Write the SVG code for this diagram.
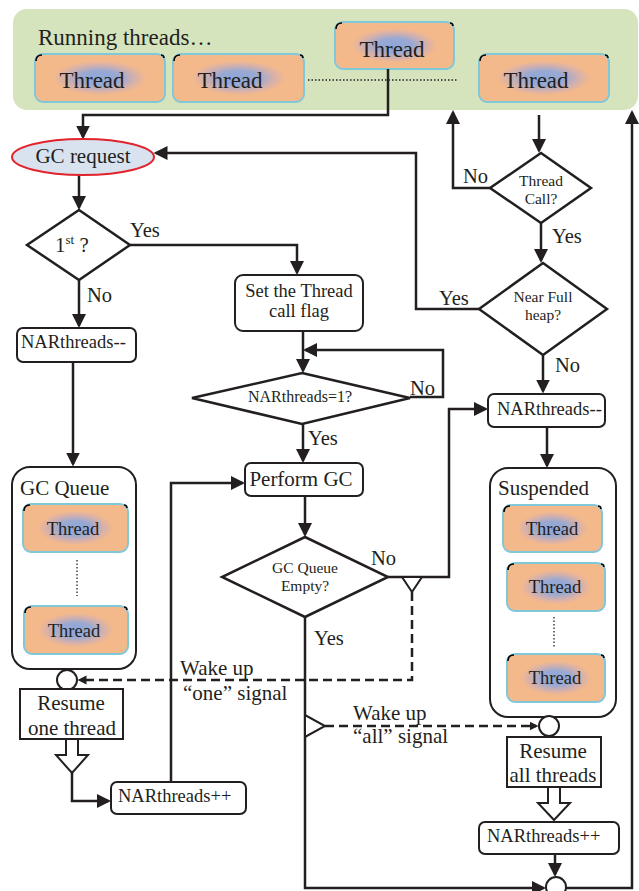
<svg xmlns="http://www.w3.org/2000/svg" width="639" height="891" viewBox="0 0 639 891">
  <style>
    .t { font-family: "Liberation Serif", "Times New Roman", serif; fill: #231f20; }
    .th { fill: url(#tg); stroke: #7ec8da; stroke-width: 2; }
    .mk { fill: none; stroke: #000; stroke-width: 1.6; }
    .box { fill: #fff; stroke: #231f20; stroke-width: 2; }
    .dia { fill: #fff; stroke: #231f20; stroke-width: 2.5; }
    .ln { fill: none; stroke: #231f20; stroke-width: 2.5; }
    .arr { marker-end: url(#ah); }
    .ds { fill: none; stroke: #231f20; stroke-width: 2.5; stroke-dasharray: 9 5; marker-end: url(#sh); }
    .dot { fill: none; stroke: #231f20; stroke-width: 1.3; stroke-dasharray: 1.5 2; }
    .hol { fill: #fff; stroke: #231f20; stroke-width: 2; }
  </style>
  <defs>
    <radialGradient id="tg" cx="0.5" cy="0.5" r="0.5">
      <stop offset="0" stop-color="#8ea7d9"/>
      <stop offset="0.3" stop-color="#99a9d3"/>
      <stop offset="0.55" stop-color="#d8b1a9"/>
      <stop offset="0.72" stop-color="#f4b98b"/>
      <stop offset="1" stop-color="#f4b98b"/>
    </radialGradient>
    <marker id="ah" markerUnits="userSpaceOnUse" markerWidth="15" markerHeight="14" refX="11.5" refY="7" orient="auto">
      <path d="M0,0 L14,7 L0,14 z" fill="#231f20"/>
    </marker>
    <marker id="sh" markerUnits="userSpaceOnUse" markerWidth="10" markerHeight="10" refX="6.5" refY="4.5" orient="auto">
      <path d="M0,0 L9,4.5 L0,9 z" fill="#231f20"/>
    </marker>
  </defs>

  <!-- running threads panel -->
  <g id="running">
    <rect x="13" y="9" width="625" height="101" rx="14" fill="#d6e4be"/>
    <text class="t" x="38" y="45" font-size="23">Running threads…</text>
    <line class="dot" x1="308" y1="80" x2="458" y2="80"/>
  </g>
  <g id="run-thread-1">
    <rect class="th" x="35" y="54" width="130" height="48" rx="8"/>
    <path class="mk" d="M36,61 Q36,55 42,55 M161,55 Q164,55 164,58"/>
    <text class="t" x="92" y="88" font-size="23" text-anchor="middle">Thread</text>
  </g>
  <g id="run-thread-2">
    <rect class="th" x="173" y="54" width="131" height="48" rx="8"/>
    <path class="mk" d="M174,61 Q174,55 180,55 M300,55 Q303,55 303,58"/>
    <text class="t" x="230" y="88" font-size="23" text-anchor="middle">Thread</text>
  </g>
  <g id="run-thread-3">
    <rect class="th" x="335" y="22" width="119" height="47" rx="8"/>
    <path class="mk" d="M336,29 Q336,23 342,23 M450,23 Q453,23 453,26"/>
    <text class="t" x="392" y="57" font-size="23" text-anchor="middle">Thread</text>
  </g>
  <g id="run-thread-4">
    <rect class="th" x="479" y="54" width="130" height="48" rx="8"/>
    <path class="mk" d="M480,61 Q480,55 486,55 M605,55 Q608,55 608,58"/>
    <text class="t" x="536" y="88" font-size="23" text-anchor="middle">Thread</text>
  </g>

  <!-- connectors -->
  <g id="connectors">
    <path class="ln arr" d="M388,69 V115 H83 V137"/>
    <path class="ln arr" d="M79,175 V207.5"/>
    <path class="ln arr" d="M130,245 H297 V272.5"/>
    <path class="ln arr" d="M79,280 V325.5"/>
    <path class="ln arr" d="M73,362 V464"/>
    <path class="ln arr" d="M303,331 V370.5"/>
    <path class="ln arr" d="M410,397 H443 V350 H305.5"/>
    <path class="ln arr" d="M303,424 V460.5"/>
    <path class="ln arr" d="M305,496 V534.5"/>
    <path class="ln arr" d="M388,577 H449 V409 H485.5"/>
    <path class="ln arr" d="M305,617 V888 H543.5"/>
    <path class="ln arr" d="M566,888 H632 V112.5"/>
    <path class="ln arr" d="M539,115 V150.5"/>
    <path class="ln arr" d="M490,188 H453 V112.5"/>
    <path class="ln arr" d="M541,223 V260.5"/>
    <path class="ln arr" d="M479,309 H416 V153 H156"/>
    <path class="ln arr" d="M543,355 V391"/>
    <path class="ln arr" d="M547,427 V465.5"/>
    <path class="ln arr" d="M72,773 V801 H108.5"/>
    <path class="ln arr" d="M171,782 V483 H242.5"/>
    <path class="ln arr" d="M555,854 V874.5"/>
    <path class="ds" d="M412,592 V680 H80"/>
    <path class="ds" d="M325,726 H536"/>
    <polygon class="hol" points="402,577 422,577 412,592"/>
    <polygon class="hol" points="305,715 305,737 325,726"/>
    <polygon class="hol" points="66,739 66,755 56,755 72,773 88,755 78,755 78,739"/>
    <polygon class="hol" points="548,787 548,803 538,803 554,820 570,803 560,803 560,787"/>
  </g>

  <!-- edge labels -->
  <g id="labels" class="t" font-size="20.5">
    <text x="130" y="237">Yes</text>
    <text x="87" y="302">No</text>
    <text x="463" y="183">No</text>
    <text x="552" y="243">Yes</text>
    <text x="439" y="305">Yes</text>
    <text x="555" y="372">No</text>
    <text x="410" y="395">No</text>
    <text x="308" y="445">Yes</text>
    <text x="371" y="565">No</text>
    <text x="314" y="645">Yes</text>
    <text x="180" y="675" font-size="21">Wake up</text>
    <text x="183" y="700" font-size="21">“one” signal</text>
    <text x="353" y="720" font-size="21">Wake up</text>
    <text x="353" y="743" font-size="21">“all” signal</text>
  </g>

  <g id="gc-request">
    <ellipse cx="83" cy="157" rx="71" ry="18" fill="#d8e3ef" stroke="#e3232c" stroke-width="2"/>
    <text class="t" x="83" y="163" font-size="21" text-anchor="middle">GC request</text>
  </g>

  <g id="first">
    <polygon class="dia" points="79,210 130,245 79,280 27,245"/>
    <text class="t" x="55" y="252" font-size="21">1<tspan font-size="13" dy="-8">st</tspan><tspan dy="8"> ?</tspan></text>
  </g>

  <g id="nar-dec-left">
    <rect class="box" x="17" y="328" width="119" height="34" rx="6"/>
    <text class="t" x="21" y="348" font-size="18.5">NARthreads--</text>
  </g>

  <g id="set-flag">
    <rect class="box" x="235" y="275" width="128" height="56" rx="8"/>
    <text class="t" x="299" y="297" font-size="18.5" text-anchor="middle">Set the Thread</text>
    <text class="t" x="299" y="317" font-size="18.5" text-anchor="middle">call flag</text>
  </g>

  <g id="nar-eq-1">
    <polygon class="dia" points="302,373 410,398 302,424 192,398"/>
    <text class="t" x="300" y="402" font-size="16" text-anchor="middle">NARthreads=1?</text>
  </g>

  <g id="perform-gc">
    <rect class="box" x="245" y="463" width="118" height="33" rx="6"/>
    <text class="t" x="301" y="486" font-size="21" text-anchor="middle">Perform GC</text>
  </g>

  <g id="gc-queue-empty">
    <polygon class="dia" points="305,537 388,577 305,617 222,577"/>
    <text class="t" x="305" y="573" font-size="15.5" text-anchor="middle">GC Queue</text>
    <text class="t" x="305" y="591" font-size="15.5" text-anchor="middle">Empty?</text>
  </g>

  <g id="thread-call">
    <polygon class="dia" points="541,153 591,188 541,223 490,188"/>
    <text class="t" x="541" y="186" font-size="15.5" text-anchor="middle">Thread</text>
    <text class="t" x="541" y="204" font-size="15.5" text-anchor="middle">Call?</text>
  </g>

  <g id="near-full">
    <polygon class="dia" points="543,263 607,309 543,355 479,309"/>
    <text class="t" x="543" y="302" font-size="15.5" text-anchor="middle">Near Full</text>
    <text class="t" x="543" y="320" font-size="15.5" text-anchor="middle">heap?</text>
  </g>

  <g id="nar-dec-right">
    <rect class="box" x="488" y="394" width="117" height="33" rx="6"/>
    <text class="t" x="497" y="415" font-size="18.5">NARthreads--</text>
  </g>

  <g id="gc-queue">
    <rect class="box" x="12" y="467" width="124" height="202" rx="18"/>
    <text class="t" x="20" y="495" font-size="21">GC Queue</text>
    <line class="dot" x1="77" y1="560" x2="77" y2="596"/>
  </g>
  <g id="queue-thread-1">
    <rect class="th" x="23" y="504" width="105" height="48" rx="8"/>
    <path class="mk" d="M24,511 Q24,505 30,505 M124,505 Q127,505 127,508"/>
    <text class="t" x="73" y="535" font-size="18.5" text-anchor="middle">Thread</text>
  </g>
  <g id="queue-thread-2">
    <rect class="th" x="24" y="606" width="104" height="48" rx="8"/>
    <path class="mk" d="M25,613 Q25,607 31,607 M124,607 Q127,607 127,610"/>
    <text class="t" x="74" y="637" font-size="18.5" text-anchor="middle">Thread</text>
  </g>

  <g id="suspended">
    <rect class="box" x="490" y="468" width="126" height="249" rx="18"/>
    <text class="t" x="498" y="495" font-size="21">Suspended</text>
    <line class="dot" x1="554" y1="617" x2="554" y2="648"/>
  </g>
  <g id="susp-thread-1">
    <rect class="th" x="503" y="505" width="99" height="47" rx="8"/>
    <path class="mk" d="M504,512 Q504,506 510,506 M598,506 Q601,506 601,509"/>
    <text class="t" x="552" y="535" font-size="18.5" text-anchor="middle">Thread</text>
  </g>
  <g id="susp-thread-2">
    <rect class="th" x="507" y="563" width="98" height="48" rx="8"/>
    <path class="mk" d="M508,570 Q508,564 514,564 M601,564 Q604,564 604,567"/>
    <text class="t" x="555" y="593" font-size="18.5" text-anchor="middle">Thread</text>
  </g>
  <g id="susp-thread-3">
    <rect class="th" x="507" y="654" width="98" height="48" rx="8"/>
    <path class="mk" d="M508,661 Q508,655 514,655 M601,655 Q604,655 604,658"/>
    <text class="t" x="555" y="684" font-size="18.5" text-anchor="middle">Thread</text>
  </g>

  <g id="wake-one">
    <circle class="box" cx="67" cy="680" r="10"/>
  </g>
  <g id="resume-one">
    <rect class="box" x="20" y="689" width="103" height="50"/>
    <text class="t" x="71" y="710" font-size="21" text-anchor="middle">Resume</text>
    <text class="t" x="72" y="735" font-size="21" text-anchor="middle">one thread</text>
  </g>
  <g id="nar-inc-left">
    <rect class="box" x="111" y="782" width="135" height="32" rx="6"/>
    <text class="t" x="118" y="802" font-size="18.5">NARthreads++</text>
  </g>

  <g id="wake-all">
    <circle class="box" cx="549" cy="726" r="10"/>
  </g>
  <g id="resume-all">
    <rect class="box" x="507" y="737" width="94" height="50"/>
    <text class="t" x="553" y="758" font-size="21" text-anchor="middle">Resume</text>
    <text class="t" x="553" y="782" font-size="21" text-anchor="middle">all threads</text>
  </g>
  <g id="nar-inc-right">
    <rect class="box" x="479" y="822" width="140" height="32" rx="6"/>
    <text class="t" x="487" y="842" font-size="18.5">NARthreads++</text>
  </g>
  <g id="join">
    <circle class="box" cx="556" cy="887" r="10"/>
  </g>
</svg>
